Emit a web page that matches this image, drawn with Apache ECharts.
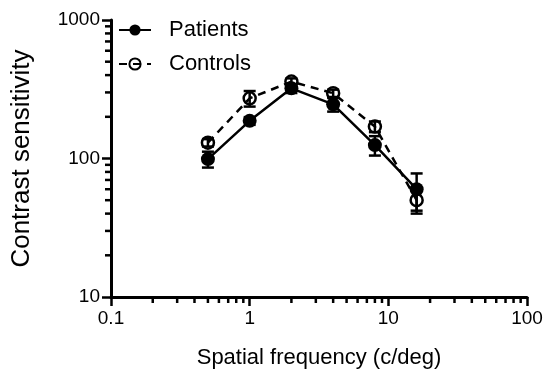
<!DOCTYPE html>
<html>
<head>
<meta charset="utf-8">
<title>Contrast sensitivity</title>
<script src="https://cdn.jsdelivr.net/npm/echarts@6/dist/echarts.min.js"></script>
</head>
<body style="margin:0">
<div id="main" style="width:550px;height:375px;"></div>
<script>
// spatial frequency (c/deg)
var freq = [0.5, 1, 2, 4, 8, 16];
// means and error (SEM)
var patients = [99, 187, 321, 246, 125, 60];
var patientsErr = [13, 12, 24, 28, 20, 18];
var controls = [130, 272, 359, 296, 170, 50];
var controlsErr = [8, 35, 20, 18, 15, 10];
// minor tick values for the log axes
var xMinorTicks = [0.2, 0.3, 0.4, 0.5, 0.6, 0.7, 0.8, 0.9, 2, 3, 4, 5, 6, 7, 8, 9, 20, 30, 40, 50, 60, 70, 80, 90];
var yMinorTicks = [20, 30, 40, 50, 60, 70, 80, 90, 200, 300, 400, 500, 600, 700, 800, 900];

var FONT = 'Liberation Sans, Arial, sans-serif';
var myChart = echarts.init(document.getElementById('main'));

function pairs(vals) {
    return freq.map(function (f, i) { return [f, vals[i]]; });
}

function errorBars(vals, errs) {
    return {
        type: 'custom',
        silent: true,
        z: 3,
        data: freq.map(function (f, i) { return [f, vals[i] - errs[i], vals[i] + errs[i]]; }),
        encode: { x: 0, y: [1, 2] },
        renderItem: function (params, api) {
            var lo = api.coord([api.value(0), api.value(1)]);
            var hi = api.coord([api.value(0), api.value(2)]);
            var w = 6;
            var st = { stroke: '#000', lineWidth: 2.5 };
            return {
                type: 'group',
                children: [
                    { type: 'line', shape: { x1: lo[0], y1: lo[1], x2: hi[0], y2: hi[1] }, style: st },
                    { type: 'line', shape: { x1: lo[0] - w, y1: lo[1], x2: lo[0] + w, y2: lo[1] }, style: st },
                    { type: 'line', shape: { x1: hi[0] - w, y1: hi[1], x2: hi[0] + w, y2: hi[1] }, style: st }
                ]
            };
        }
    };
}

function minorTicks(list, isX) {
    return {
        type: 'custom',
        silent: true,
        data: list.map(function (v) { return isX ? [v, 10] : [0.1, v]; }),
        renderItem: function (params, api) {
            var p = api.coord([api.value(0), api.value(1)]);
            var shape = isX ? { x1: p[0], y1: p[1], x2: p[0], y2: p[1] + 6 }
                            : { x1: p[0], y1: p[1], x2: p[0] - 6, y2: p[1] };
            return { type: 'line', shape: shape, style: { stroke: '#000', lineWidth: 2.5 } };
        }
    };
}

var option = {
    animation: false,
    grid: { left: 111, right: 23, top: 20, bottom: 78 },
    legend: {
        data: ['Patients', 'Controls'],
        orient: 'vertical',
        left: 113,
        top: 14,
        itemWidth: 32,
        itemHeight: 14,
        itemGap: 12,
        textStyle: { fontFamily: FONT, fontSize: 22, color: '#000', padding: [0, 0, 0, 13] }
    },
    xAxis: {
        type: 'log',
        logBase: 10,
        min: 0.1,
        max: 100,
        name: 'Spatial frequency (c/deg)',
        nameLocation: 'middle',
        nameGap: 50,
        nameTextStyle: { fontFamily: FONT, fontSize: 22, color: '#000' },
        axisLine: { lineStyle: { color: '#000', width: 3 } },
        axisTick: { length: 9, lineStyle: { color: '#000', width: 2.5 } },
        axisLabel: { fontFamily: FONT, fontSize: 19, color: '#000', margin: 12,
            formatter: function (v) { return String(v); } },
        splitLine: { show: false }
    },
    yAxis: {
        type: 'log',
        logBase: 10,
        min: 10,
        max: 1000,
        name: 'Contrast sensitivity',
        nameLocation: 'middle',
        nameGap: 76,
        nameTextStyle: { fontFamily: FONT, fontSize: 26, color: '#000' },
        axisLine: { lineStyle: { color: '#000', width: 3 } },
        axisTick: { length: 9, lineStyle: { color: '#000', width: 2.5 } },
        axisLabel: { fontFamily: FONT, fontSize: 19, color: '#000', margin: 11,
            formatter: function (v) { return String(v); } },
        splitLine: { show: false }
    },
    series: [
        minorTicks(xMinorTicks, true),
        minorTicks(yMinorTicks, false),
        errorBars(controls, controlsErr),
        errorBars(patients, patientsErr),
        {
            name: 'Controls',
            type: 'line',
            data: pairs(controls),
            symbol: 'circle',
            symbolSize: 12,
            z: 4,
            lineStyle: { color: '#000', width: 2.5, type: [8, 6] },
            itemStyle: { color: 'rgba(0,0,0,0)', borderColor: '#000', borderWidth: 2.5 }
        },
        {
            name: 'Patients',
            type: 'line',
            data: pairs(patients),
            symbol: 'circle',
            symbolSize: 14,
            z: 5,
            lineStyle: { color: '#000', width: 2.5 },
            itemStyle: { color: '#000' }
        }
    ]
};

myChart.setOption(option);
</script>
</body>
</html>
